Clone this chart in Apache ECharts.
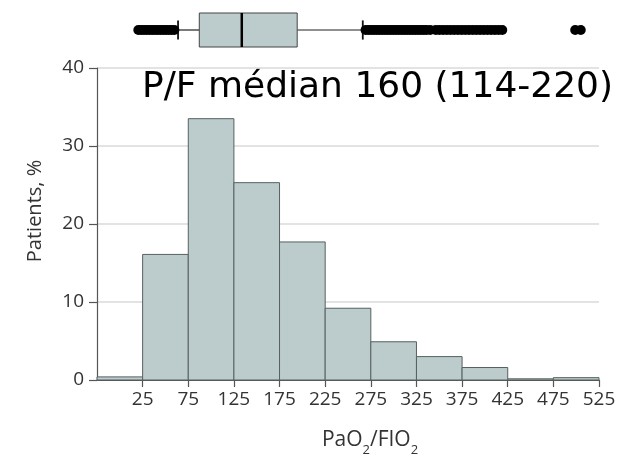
<!DOCTYPE html>
<html>
<head>
    <meta charset="utf-8">
    <title>PaO2/FIO2</title>
    <script src="https://cdn.jsdelivr.net/npm/echarts@6/dist/echarts.min.js"></script>
    <style>
        html, body { margin: 0; padding: 0; background: #fff; }
        #main { width: 621px; height: 456px; }
    </style>
</head>
<body>
<div id="main"></div>
<script>
// histogram bins (PaO2/FIO2), edges at -25, 25, 75 ... 525
var binEdges = [-25, 25, 75, 125, 175, 225, 275, 325, 375, 425, 475, 525];
var pctPatients = [0.4, 16.1, 33.5, 25.3, 17.7, 9.2, 4.9, 3.0, 1.6, 0.15, 0.3];
var yTicks = [0, 10, 20, 30, 40];

// box plot on top: whisker low, Q1, median, Q3, whisker high
var boxStats = [91, 114, 160, 220, 291];
var outliersLow = [48, 51, 54, 57, 60, 63, 66, 69, 72, 75, 78, 81, 84, 87];
var outliersHigh = [294, 297, 300, 303, 306, 309, 312, 315, 318, 321, 324, 327, 330, 333, 336,
    339, 342, 345, 348, 351, 354, 357, 360, 364, 370, 374, 378, 382, 386, 390, 394, 398, 402,
    406, 410, 414, 418, 422, 426, 430, 434, 438, 442, 521, 527];

var fill = '#bccccc';
var edge = '#56605f';
var txt = '#333';
var font = 'Open Sans';

var chart = echarts.init(document.getElementById('main'));

var barData = [];
for (var i = 0; i < pctPatients.length; i++) {
    barData.push([binEdges[i], binEdges[i + 1], pctPatients[i]]);
}
var outData = outliersLow.concat(outliersHigh).map(function (v) { return [v, 0]; });

function renderBar(params, api) {
    var top = api.coord([api.value(0), api.value(2)]);
    var bot = api.coord([api.value(1), 0]);
    return {
        type: 'rect',
        shape: { x: top[0], y: top[1], width: bot[0] - top[0], height: bot[1] - top[1] },
        style: { fill: fill, stroke: edge, lineWidth: 1 }
    };
}

function renderBox(params, api) {
    var band = api.size([0, 1])[1];
    var c = function (v) { return api.coord([v, 0]); };
    var wl = c(api.value(1)), q1 = c(api.value(2)), md = c(api.value(3)),
        q3 = c(api.value(4)), wh = c(api.value(5));
    var y = q1[1], bh = band * 0.85, ch = band * 0.48;
    var ln = { stroke: '#222', lineWidth: 1.2 };
    var cap = { stroke: '#111', lineWidth: 1.8 };
    return {
        type: 'group',
        children: [
            { type: 'line', shape: { x1: wl[0], y1: y, x2: q1[0], y2: y }, style: ln },
            { type: 'line', shape: { x1: q3[0], y1: y, x2: wh[0], y2: y }, style: ln },
            { type: 'line', shape: { x1: wl[0], y1: y - ch / 2, x2: wl[0], y2: y + ch / 2 }, style: cap },
            { type: 'line', shape: { x1: wh[0], y1: y - ch / 2, x2: wh[0], y2: y + ch / 2 }, style: cap },
            { type: 'rect', shape: { x: q1[0], y: y - bh / 2, width: q3[0] - q1[0], height: bh },
              style: { fill: fill, stroke: '#444', lineWidth: 1 } },
            { type: 'line', shape: { x1: md[0], y1: y - bh / 2, x2: md[0], y2: y + bh / 2 },
              style: { stroke: '#000', lineWidth: 2.5 } }
        ]
    };
}

option = {
    animation: false,
    grid: [
        { left: 97, right: 22, top: 68, bottom: 76, containLabel: false, outerBoundsMode: 'none' },
        { left: 94, right: 19, top: 10, height: 40, containLabel: false, outerBoundsMode: 'none' }
    ],
    xAxis: [{
        type: 'value',
        gridIndex: 0,
        min: binEdges[0],
        max: binEdges[binEdges.length - 1],
        interval: 50,
        name: '{n|PaO}{s|2}{n|/FIO}{s|2}',
        nameLocation: 'middle',
        nameGap: 50,
        nameTextStyle: {
            padding: [0, 0, 0, 44],
            rich: {
                n: { fontFamily: font, fontSize: 21, color: txt, lineHeight: 27, verticalAlign: 'top' },
                s: { fontFamily: font, fontSize: 13, color: txt, lineHeight: 16, verticalAlign: 'bottom' }
            }
        },
        splitLine: { show: false },
        axisLine: { show: true, onZero: false, lineStyle: { color: '#555', width: 1.2 } },
        axisTick: { show: true, length: 7, lineStyle: { color: '#555', width: 1.2 } },
        axisLabel: {
            showMinLabel: false,
            margin: 10,
            fontFamily: font,
            fontSize: 19,
            color: txt
        }
    }, {
        type: 'value',
        gridIndex: 1,
        min: 0,
        max: 550,
        show: false
    }],
    yAxis: [{
        type: 'value',
        gridIndex: 0,
        min: yTicks[0],
        max: yTicks[yTicks.length - 1],
        interval: 10,
        name: 'Patients, %',
        nameLocation: 'middle',
        nameGap: 52,
        nameTextStyle: { fontFamily: font, fontSize: 20, color: txt, padding: [0, 0, 0, 26] },
        axisLine: { show: true, onZero: false, lineStyle: { color: '#555', width: 1.2 } },
        axisTick: { show: true, length: 8, lineStyle: { color: '#555', width: 1.2 } },
        axisLabel: { margin: 13, fontFamily: font, fontSize: 19, color: txt },
        splitLine: { show: true, lineStyle: { color: '#dadada', width: 1.5 } }
    }, {
        type: 'category',
        gridIndex: 1,
        data: ['P/F'],
        show: false
    }],
    graphic: [{
        type: 'text',
        left: 142,
        top: 70,
        style: {
            text: 'P/F médian 160 (114-220)',
            fontFamily: 'DejaVu Sans',
            fontSize: 36,
            fill: '#000'
        }
    }],
    series: [{
        name: 'Patients',
        type: 'custom',
        xAxisIndex: 0,
        yAxisIndex: 0,
        renderItem: renderBar,
        encode: { x: [0, 1], y: 2 },
        data: barData
    }, {
        name: 'box',
        type: 'custom',
        xAxisIndex: 1,
        yAxisIndex: 1,
        renderItem: renderBox,
        encode: { x: [1, 2, 3, 4, 5], y: 0 },
        data: [[0].concat(boxStats)]
    }, {
        name: 'outliers',
        type: 'scatter',
        xAxisIndex: 1,
        yAxisIndex: 1,
        symbolSize: 10,
        itemStyle: { color: '#000', opacity: 1 },
        data: outData,
        z: 3
    }]
};
chart.setOption(option);
</script>
</body>
</html>
